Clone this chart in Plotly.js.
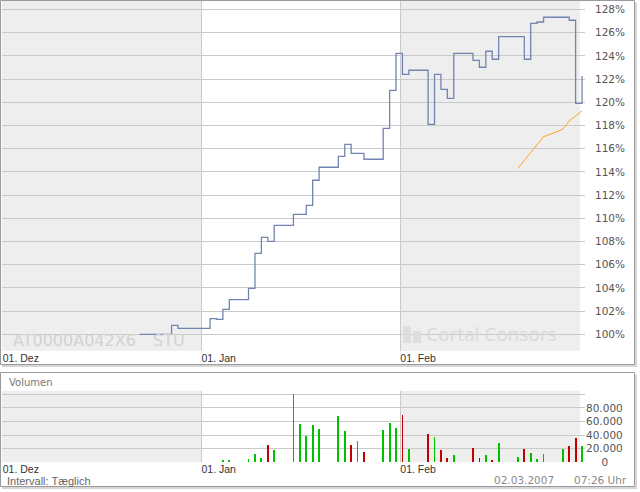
<!DOCTYPE html>
<html><head><meta charset="utf-8">
<script src="https://cdn.plot.ly/plotly-3.0.1.min.js"></script>
<style>html,body{margin:0;padding:0;background:#fff;}#chart{width:640px;height:492px;}</style>
</head><body><div id="chart"></div>
<script>
// ---- data ----
const priceDates = ['2006-12-22','2006-12-27','2006-12-28','2006-12-29','2007-01-02','2007-01-03','2007-01-04','2007-01-05','2007-01-08','2007-01-09','2007-01-10','2007-01-11','2007-01-12','2007-01-15','2007-01-16','2007-01-17','2007-01-18','2007-01-19','2007-01-22','2007-01-23','2007-01-24','2007-01-25','2007-01-26','2007-01-29','2007-01-30','2007-01-31','2007-02-01','2007-02-02','2007-02-05','2007-02-06','2007-02-07','2007-02-08','2007-02-09','2007-02-12','2007-02-13','2007-02-14','2007-02-15','2007-02-16','2007-02-19','2007-02-20','2007-02-21','2007-02-22','2007-02-23','2007-02-26','2007-02-27','2007-02-28','2007-03-01'];
const priceValues = [100.0,100.78,100.52,100.52,101.35,101.29,102.15,103.0,103.97,106.98,108.36,108.02,109.40,110.34,110.34,111.12,113.28,114.40,115.34,116.38,115.60,115.60,115.09,117.76,121.03,124.22,122.41,122.76,118.10,122.41,121.12,120.34,124.22,123.62,123.02,124.40,123.71,125.66,125.66,123.71,126.81,126.92,127.33,127.33,127.07,119.91,122.27];

const maDates = ['2007-02-19','2007-02-20','2007-02-21','2007-02-22','2007-02-23','2007-02-26','2007-02-27','2007-02-28','2007-03-01'];
const maValues = [114.31,115.0,115.7,116.35,117.03,117.67,118.39,118.82,119.25];

const volDates = ['2007-01-04','2007-01-05','2007-01-08','2007-01-09','2007-01-10','2007-01-11','2007-01-12','2007-01-15','2007-01-16','2007-01-17','2007-01-18','2007-01-19','2007-01-22','2007-01-23','2007-01-24','2007-01-25','2007-01-26','2007-01-29','2007-01-30','2007-01-31','2007-02-01','2007-02-02','2007-02-05','2007-02-06','2007-02-07','2007-02-08','2007-02-09','2007-02-12','2007-02-13','2007-02-14','2007-02-15','2007-02-16','2007-02-19','2007-02-20','2007-02-21','2007-02-22','2007-02-23','2007-02-26','2007-02-27','2007-02-28','2007-03-01'];
const volValues = [3400,3400,4900,12200,6800,25400,18100,100400,56300,38700,54900,49000,68100,46000,25400,31300,15100,47500,57800,50400,69600,19600,41600,37600,18100,6800,10700,21000,6800,10700,3400,28400,7800,19600,13700,4900,12200,19600,24000,35700,24000];
const volDir = ['u','u','u','u','u','d','u','u','u','u','u','u','u','u','d','u','d','u','u','u','d','u','d','u','d','d','u','d','d','u','d','u','u','d','u','u','u','u','d','d','u'];

const priceTicks = [100,102,104,106,108,110,112,114,116,118,120,122,124,126,128];
const volTicks = [0,20000,40000,60000,80000,100000];
const volTickText = ['\u2007\u2007\u20090','20.000','40.000','60.000','80.000',''];
const monthTicks = ['2006-12-01','2007-01-01','2007-02-01'];
const monthLabels = ['01. Dez','01. Jan','01. Feb'];

// ---- helpers ----
const W = 640, H = 492;
const px = x => x / W;
const py = y => 1 - y / H;
const atTime = d => d + ' 08:00';

const xRange = ['2006-11-30 21:20', '2007-03-01 19:10'];
const xDomain = [px(2), px(585)];

const GREEN = '#00c000', RED = '#c40000';
const GRID = '#cacaca';

const traces = [
  {type:'scatter', mode:'lines', x: priceDates.map(atTime), y: priceValues,
   line:{shape:'hv', color:'#7185b0', width:1.3}, xaxis:'x', yaxis:'y', hoverinfo:'skip'},
  {type:'scatter', mode:'lines', x: maDates.map(atTime), y: maValues,
   line:{color:'#ffa21f', width:1}, xaxis:'x', yaxis:'y', hoverinfo:'skip'},
  {type:'bar', x: volDates.map(atTime), y: volValues,
   width: 0.28*86400000,
   marker:{color: volDir.map(d => d === 'u' ? GREEN : RED), line:{width:0}},
   xaxis:'x2', yaxis:'y2', hoverinfo:'skip'}
];

const xCommon = {
  type:'date', domain: xDomain, range: xRange,
  tickmode:'array', tickvals: monthTicks, ticktext: monthLabels,
  showgrid:true, gridcolor:GRID, gridwidth:1,
  ticks:'', ticklabelposition:'outside right',
  tickfont:{family:'Liberation Sans, Arial, sans-serif', size:10.5, color:'#333'},
  showline:false, zeroline:false, fixedrange:true
};

const shapes = [];
// alternating month bands
[['x','y'],['x2','y2']].forEach(([xa,ya]) => {
  shapes.push({type:'rect', xref:xa, yref:ya+' domain', x0:xRange[0], x1:'2007-01-01', y0:0, y1:1,
    fillcolor:'#eeeeee', line:{width:0}, layer:'below'});
  shapes.push({type:'rect', xref:xa, yref:ya+' domain', x0:'2007-02-01', x1:'2007-03-01', y0:0, y1:1,
    fillcolor:'#eeeeee', line:{width:0}, layer:'below'});
});
// panel frames with soft shadow
[[0.5,364.5],[372.5,486.5]].forEach(([t,b]) => {
  shapes.push({type:'line', xref:'paper', yref:'paper', x0:px(636), x1:px(636), y0:py(t+2), y1:py(b+2),
    line:{color:'#d6d6d6', width:2}, layer:'above'});
  shapes.push({type:'line', xref:'paper', yref:'paper', x0:px(2), x1:px(637), y0:py(b+1.5), y1:py(b+1.5),
    line:{color:'#d6d6d6', width:2}, layer:'above'});
  shapes.push({type:'rect', xref:'paper', yref:'paper', x0:px(0.5), x1:px(634.5), y0:py(b), y1:py(t),
    line:{color:'#9a9a9a', width:1}, fillcolor:'rgba(0,0,0,0)', layer:'above'});
});
// small logo mark next to the watermark name
shapes.push({type:'rect', xref:'paper', yref:'paper', x0:px(403), x1:px(411), y0:py(343), y1:py(326),
  line:{width:0}, fillcolor:'#dedede', layer:'above'});
shapes.push({type:'rect', xref:'paper', yref:'paper', x0:px(413), x1:px(421), y0:py(343), y1:py(331),
  line:{width:0}, fillcolor:'#dedede', layer:'above'});

const annotations = [
  {text:'AT0000A042X6', xref:'paper', yref:'paper', x:px(11), y:py(340.5), xanchor:'left', yanchor:'middle',
   showarrow:false, font:{family:'DejaVu Sans, sans-serif', size:16, color:'#d2d2d2'}},
  {text:'STU', xref:'paper', yref:'paper', x:px(151), y:py(340.5), xanchor:'left', yanchor:'middle',
   showarrow:false, font:{family:'DejaVu Sans, sans-serif', size:16, color:'#d2d2d2'}},
  {text:'Cortal Consors', xref:'paper', yref:'paper', x:px(424), y:py(334), xanchor:'left', yanchor:'middle',
   showarrow:false, font:{family:'Open Sans, sans-serif', size:19, color:'#d9d9d9'}},
  {text:'Volumen', xref:'paper', yref:'paper', x:px(7), y:py(382.7), xanchor:'left', yanchor:'middle',
   showarrow:false, font:{family:'DejaVu Sans, sans-serif', size:10, color:'#777'}},
  {text:'Intervall: Tæglich', xref:'paper', yref:'paper', x:px(6), y:py(480.5), xanchor:'left', yanchor:'middle',
   showarrow:false, borderpad:0, font:{family:'Liberation Sans, Arial, sans-serif', size:11, color:'#666'}},
  {text:'02.03.2007', xref:'paper', yref:'paper', x:px(555.5), y:py(480), xanchor:'right', yanchor:'middle',
   showarrow:false, font:{family:'DejaVu Sans, sans-serif', size:10.5, color:'#8a8a8a'}},
  {text:'07:26 Uhr', xref:'paper', yref:'paper', x:px(628.5), y:py(480), xanchor:'right', yanchor:'middle',
   showarrow:false, font:{family:'DejaVu Sans, sans-serif', size:10.5, color:'#8a8a8a'}}
];

const layout = {
  width: W, height: H, margin:{l:0,r:0,t:0,b:0,pad:0},
  paper_bgcolor:'#ffffff', plot_bgcolor:'#ffffff', showlegend:false,
  xaxis: Object.assign({}, xCommon, {anchor:'y'}),
  xaxis2: Object.assign({}, xCommon, {anchor:'y2', ticklabelstandoff:-1}),
  yaxis: {domain:[py(350.7), py(1)], range:[98.59, 128.73], side:'right', anchor:'x',
    tickmode:'array', tickvals: priceTicks, ticktext: priceTicks.map(v => v + '%'),
    showgrid:true, gridcolor:GRID, gridwidth:1, ticks:'', ticklabelstandoff:9,
    tickfont:{family:'DejaVu Sans, sans-serif', size:10.5, color:'#555'},
    showline:false, zeroline:false, fixedrange:true},
  yaxis2: {domain:[py(462.3), py(390.7)], range:[0, 105300], side:'right', anchor:'x2',
    tickmode:'array', tickvals: volTicks, ticktext: volTickText,
    showgrid:true, gridcolor:GRID, gridwidth:1, ticks:'', ticklabelstandoff:6.7,
    tickfont:{family:'DejaVu Sans, sans-serif', size:10.5, color:'#555'},
    showline:false, zeroline:false, fixedrange:true},
  shapes, annotations, bargap:0
};

Plotly.newPlot('chart', traces, layout, {staticPlot:true, displayModeBar:false});
</script></body></html>
